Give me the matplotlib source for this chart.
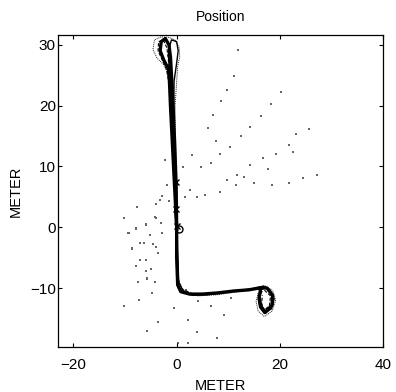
import matplotlib
matplotlib.use("Agg")
import matplotlib.pyplot as plt

plt.rcParams['font.family'] = ['Liberation Sans', 'DejaVu Sans']

# ---- data ----
title = "Position"
xlabel = "METER"
ylabel = "METER"
xticks = [-20, 0, 20, 40]
yticks = [-10, 0, 10, 20, 30]

# trajectory runs
run1_x = [0.0, -0.3, -0.6, -0.9, -1.2, -1.4, -1.6, -2.5, -3.2, -3.0, -2.2, -1.5, -1.2, -1.0, -0.7, -0.4, -0.1, 0.0, 0.0, 0.2, 0.8, 2.5, 5.0, 8.0, 11.0, 14.0, 16.0, 17.5, 18.6, 18.5, 17.2, 16.3, 16.0, 16.2]
run1_y = [0.0, 5.0, 10.0, 15.0, 20.0, 24.0, 26.0, 27.5, 29.0, 30.5, 31.0, 30.0, 28.0, 25.0, 20.0, 14.0, 7.0, 0.0, -5.0, -9.5, -10.6, -11.0, -11.0, -10.8, -10.5, -10.3, -10.0, -10.0, -11.2, -12.8, -14.0, -13.0, -11.5, -10.5]
run2_x = [0.2, -0.1, -0.4, -0.7, -1.0, -1.2, -1.5, -1.6, -1.0, 0.0, 0.3, 0.0, -0.5, -0.6, -0.3, 0.0, 0.2, 0.4, 1.2, 3.0, 6.0, 9.0, 12.0, 15.0, 16.8, 18.0, 18.9, 18.4, 17.0, 16.1, 15.8, 16.5]
run2_y = [-0.5, 5.0, 10.0, 15.0, 20.0, 24.0, 27.0, 29.0, 30.8, 30.5, 29.0, 27.0, 24.0, 18.0, 10.0, 3.0, -4.0, -9.0, -10.4, -11.2, -11.1, -10.8, -10.4, -10.1, -9.7, -10.2, -11.8, -13.4, -14.2, -13.2, -11.8, -10.6]
run3_x = [-0.2, -0.6, -0.9, -1.2, -1.5, -2.6, -3.8, -4.6, -4.3, -3.0, -1.5, -0.3, 0.5, 0.6, 0.2, -0.3, -0.1, 0.1, 0.4, 1.5, 4.0, 8.0, 12.0, 15.0, 17.0, 18.6, 19.2, 18.5, 17.0, 15.8, 15.4, 15.8]
run3_y = [2.0, 8.0, 14.0, 20.0, 25.0, 26.8, 27.8, 29.2, 30.8, 31.3, 31.2, 30.8, 29.5, 28.0, 26.5, 20.0, 8.0, -3.0, -9.2, -10.5, -11.3, -11.1, -10.6, -10.0, -9.6, -10.4, -12.0, -13.8, -14.7, -13.8, -12.2, -10.8]
run4_x = [0.1, -0.4, -0.8, -1.1, -1.3, -2.0, -2.8, -3.6, -3.5, -2.6, -1.9, -1.6, -1.4, -0.9, -0.3, 0.1, 0.3, 1.0, 3.0, 7.0, 11.0, 14.5, 16.8, 18.2, 18.0, 17.0, 16.5, 16.6]
run4_y = [0.5, 6.0, 12.0, 18.0, 23.0, 26.0, 27.5, 29.0, 30.5, 30.8, 29.5, 27.5, 24.5, 17.0, 8.0, -2.0, -8.5, -10.2, -10.9, -10.9, -10.5, -10.2, -10.2, -11.3, -12.8, -13.7, -12.6, -11.2]

# marker positions
circle_x = [0.4]
circle_y = [-0.3]
cross_x = [-0.1, 0.0, -0.2]
cross_y = [7.5, 0.2, 3.0]

# scattered position fixes
dots_x = [11.9, 11.1, 9.8, 8.5, 7.0, 6.0, 20.3, 18.2, 16.3, 14.3, 12.4, 10.3, 8.4, 25.6, 23.2, 21.8,
          19.2, 16.8, 14.3, 11.7, 9.8, 6.7, 4.8, 2.9, 1.3, 27.3, 24.4, 21.8, 18.5, 14.9, 11.6, 8.4,
          5.5, 3.9, 2.5, 1.6, -1.9, -2.2, -3.2, -4.1, -6.0, -7.8, -10.2, -9.4, -8.6, -7.9, -6.0,
          -6.3, -5.1, -4.1, -5.7, -4.8, -3.6, -2.9, -10.2, -7.3, -5.7, -3.6, -0.6, 0.3, 2.2, 2.2,
          3.9, 4.1, 6.7, 7.9, 9.2, 10.5, 1.9, -2.9, -1.5, -4.1, -7.7, -4.2, -5.9, -7.9, -9.3, -7.1,
          -8.6, -4.6, -7.2, -5.9, -5.0, -5.7, -4.2, -7.4, -3.1, 13.0, 7.6, 17.8, 22.6]
dots_y = [29.1, 24.8, 22.6, 20.8, 18.4, 16.3, 22.3, 20.2, 18.3, 16.5, 15.0, 13.2, 12.0, 16.2, 15.3, 13.5,
          12.1, 11.3, 10.2, 8.6, 7.7, 10.5, 9.9, 11.9, 9.9, 8.6, 8.1, 7.3, 6.9, 7.2, 7.0, 5.8,
          5.3, 5.0, 6.1, 5.0, 6.9, 11.0, 4.5, 1.5, 0.5, -0.2, 1.5, -1.0, -3.4, -6.4, -5.4,
          -2.6, -1.3, -3.2, -8.4, -10.8, -4.3, -1.0, -12.9, -11.9, -17.1, -15.6, -13.3, -19.0, -19.0, -15.2,
          -17.3, -12.2, -13.0, -18.2, -14.5, -11.6, -10.3, 5.1, 4.3, 3.8, 3.4, 1.6, 0.3, -0.3, -1.0, -2.6,
          -3.6, -2.8, -5.4, -7.2, -6.8, -8.5, -9.0, -9.0, 0.7, 8.2, 14.2, 9.5, 12.4]

fig = plt.figure(figsize=(3.96, 3.92), dpi=100)
ax = fig.add_axes([58 / 396, 1 - 347 / 392, (383 - 58) / 396, (347 - 35) / 392])

ax.scatter(dots_x, dots_y, s=1.2, c='#666666', marker='s', linewidths=0)
ax.plot(run3_x, run3_y, color='#222222', lw=0.7, ls=(0, (1, 1)))
ax.plot(run4_x, run4_y, color='black', lw=0.8, ls=(0, (3, 1.5)))
ax.plot(run2_x, run2_y, color='black', lw=1.0)
ax.plot(run1_x, run1_y, color='black', lw=2.4)
ax.plot(circle_x, circle_y, 'o', mfc='none', mec='black', ms=5, mew=1)
ax.plot(cross_x, cross_y, 'x', color='black', ms=4, mew=1)

ax.set_xlim(-23, 40)
ax.set_ylim(-19.7, 31.6)
ax.set_xticks(xticks)
ax.set_yticks(yticks)
ax.tick_params(direction='in', top=True, right=True, length=3, width=0.8, labelsize=11)
ax.tick_params(axis='x', pad=8)
ax.tick_params(axis='y', pad=1.5)
for s in ax.spines.values():
    s.set_linewidth(0.9)
ax.set_title(title, fontsize=10, pad=10)
ax.set_xlabel(xlabel, fontsize=10.5, labelpad=5)
ax.set_ylabel(ylabel, fontsize=10.5, labelpad=5)

fig.savefig("out.png", dpi=100)
